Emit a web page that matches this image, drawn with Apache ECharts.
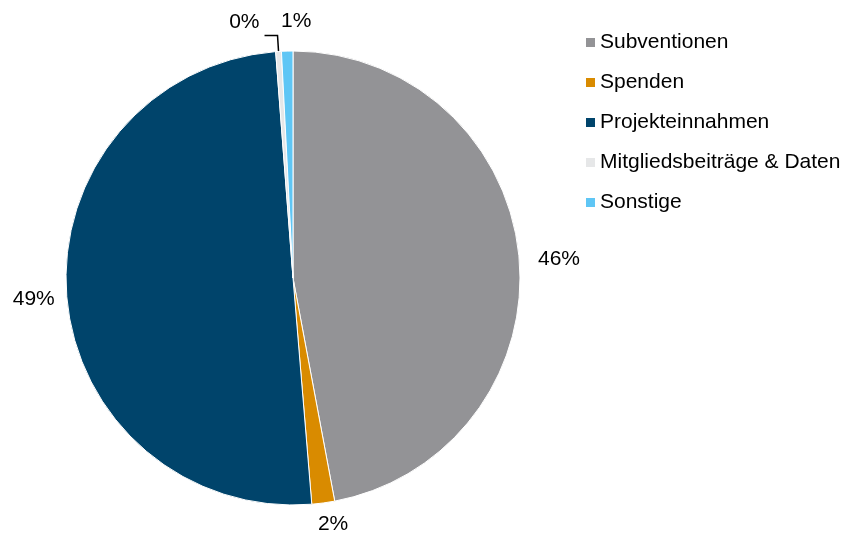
<!DOCTYPE html>
<html>
<head>
<meta charset="utf-8">
<script src="https://cdn.jsdelivr.net/npm/echarts@6/dist/echarts.min.js"></script>
<style>
  html, body { margin: 0; padding: 0; background: #ffffff; }
  #chart { width: 843px; height: 534px; }
</style>
</head>
<body>
<div id="chart"></div>
<script>
// Einnahmenstruktur (Anteile in %)
const categories = ['Subventionen', 'Spenden', 'Projekteinnahmen', 'Mitgliedsbeiträge & Daten', 'Sonstige'];
const shares = [46.4, 1.6, 49.4, 0.4, 0.8];
const colors = ['#939396', '#D98B00', '#00446B', '#E6E7E8', '#5FC6F5'];

// small nudges for the label placement (dataIndex -> offset)
const labelNudge = {
  0: { dy: 3 },
  1: { dx: -14, dy: 9 },
  2: { dx: 7, dy: 2 },
  3: { dy: -13 },
  4: { dx: 30, dy: 0 }
};

const chart = echarts.init(document.getElementById('chart'), null, { renderer: 'canvas' });

const data = categories.map((name, i) => {
  const item = { name: name, value: shares[i], itemStyle: { color: colors[i] } };
  if (i === 3) {
    item.labelLine = { show: true, length: 16, length2: 13, lineStyle: { color: '#000000', width: 1.5 } };
  }
  if (i === 4) {
    item.labelLine = { show: false, length: 30, length2: 0 };
  }
  return item;
});

chart.setOption({
  animation: false,
  backgroundColor: '#ffffff',
  textStyle: { fontFamily: 'Liberation Sans, Arial, sans-serif' },
  legend: {
    orient: 'vertical',
    left: 584,
    top: 32,
    padding: 0,
    itemWidth: 11,
    itemHeight: 11,
    itemGap: 19,
    icon: 'rect',
    textStyle: { fontSize: 21, color: '#000000', padding: [0, 0, 0, -1] },
    data: categories
  },
  series: [{
    type: 'pie',
    center: [293, 278],
    radius: 227,
    startAngle: 90,
    clockwise: true,
    avoidLabelOverlap: false,
    itemStyle: { borderColor: '#ffffff', borderWidth: 1 },
    label: {
      show: true,
      position: 'outside',
      fontSize: 21,
      color: '#000000',
      formatter: p => Math.round(p.value) + '%'
    },
    labelLine: { show: false, length: 12, length2: 2 },
    labelLayout: p => labelNudge[p.dataIndex] || {},
    emphasis: { disabled: true },
    data: data
  }]
});
</script>
</body>
</html>
